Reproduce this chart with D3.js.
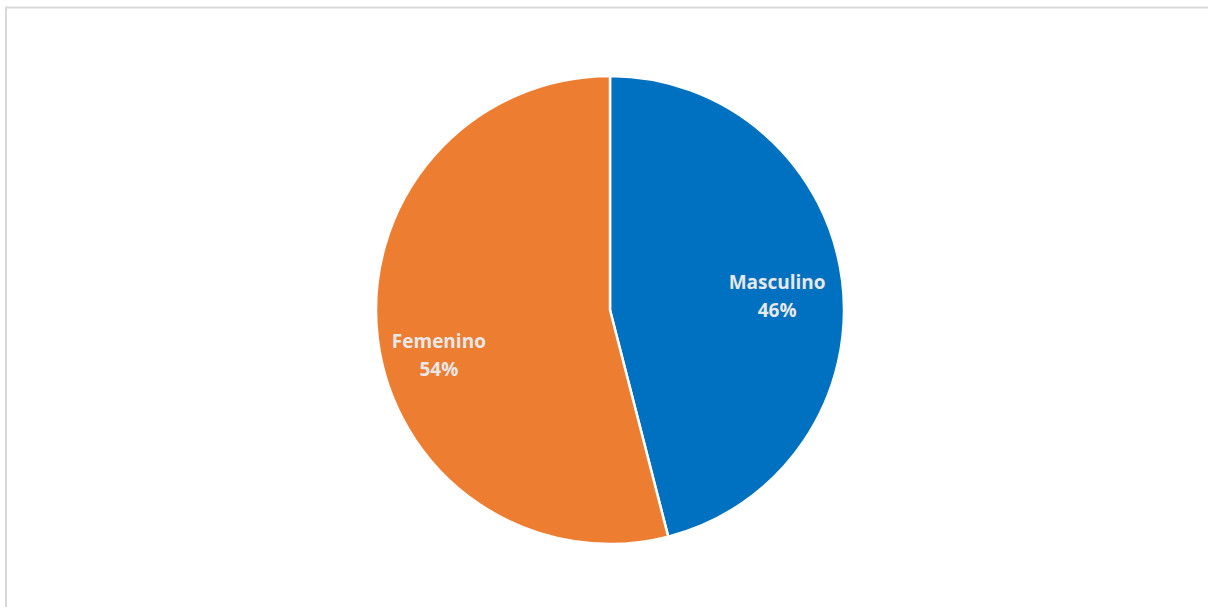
<!DOCTYPE html>
<html>
<head>
<meta charset="utf-8">
<script src="https://cdn.jsdelivr.net/npm/d3@7"></script>
<style>
  html, body { margin: 0; padding: 0; background: #ffffff; overflow: hidden; }
  svg { display: block; }
</style>
</head>
<body>
<svg id="chart" width="1208" height="607"></svg>
<script>
// Distribución por sexo
const categories = ["Masculino", "Femenino"];
const values = [46, 54];
const colors = ["#0070c0", "#ed7d31"];

const W = 1208, H = 607;
const cx = 610, cy = 310, R = 234;

const svg = d3.select("#chart");

// chart area frame (runs past the right and bottom edges)
svg.append("rect")
  .attr("x", 6).attr("y", 7.5)
  .attr("width", W + 10).attr("height", H + 10)
  .attr("fill", "none")
  .attr("stroke", "#d9d9d9")
  .attr("stroke-width", 2);

const data = categories.map((c, i) => ({ name: c, value: values[i] }));

const pie = d3.pie().value(d => d.value).sort(null);
const arcs = pie(data);

const arc = d3.arc().innerRadius(0).outerRadius(R);
const labelArc = d3.arc().innerRadius(R * 0.72).outerRadius(R * 0.72);

const color = d3.scaleOrdinal().domain(categories).range(colors);

const g = svg.append("g").attr("transform", `translate(${cx},${cy})`);

g.selectAll("path.slice")
  .data(arcs)
  .join("path")
  .attr("class", "slice")
  .attr("d", arc)
  .attr("fill", d => color(d.data.name))
  .attr("stroke", "#ffffff")
  .attr("stroke-width", 2.5)
  .attr("stroke-linejoin", "round");

// small nudges for the data labels inside each slice
const labelNudge = { "Masculino": [0, 7], "Femenino": [-4, 24] };

const total = d3.sum(values);
const labels = g.selectAll("text.lbl")
  .data(arcs)
  .join("text")
  .attr("class", "lbl")
  .attr("transform", d => {
    const [x, y] = labelArc.centroid(d);
    const n = labelNudge[d.data.name];
    return `translate(${x + n[0]},${y + n[1]})`;
  })
  .attr("text-anchor", "middle")
  .attr("font-family", "'Open Sans', Lato, sans-serif")
  .attr("font-weight", "bold")
  .attr("font-size", 19)
  .attr("fill", "#e8e8e8");

labels.append("tspan")
  .attr("x", 0).attr("y", -7)
  .text(d => d.data.name);
labels.append("tspan")
  .attr("x", 0).attr("y", 21)
  .text(d => Math.round(d.data.value / total * 100) + "%");
</script>
</body>
</html>
